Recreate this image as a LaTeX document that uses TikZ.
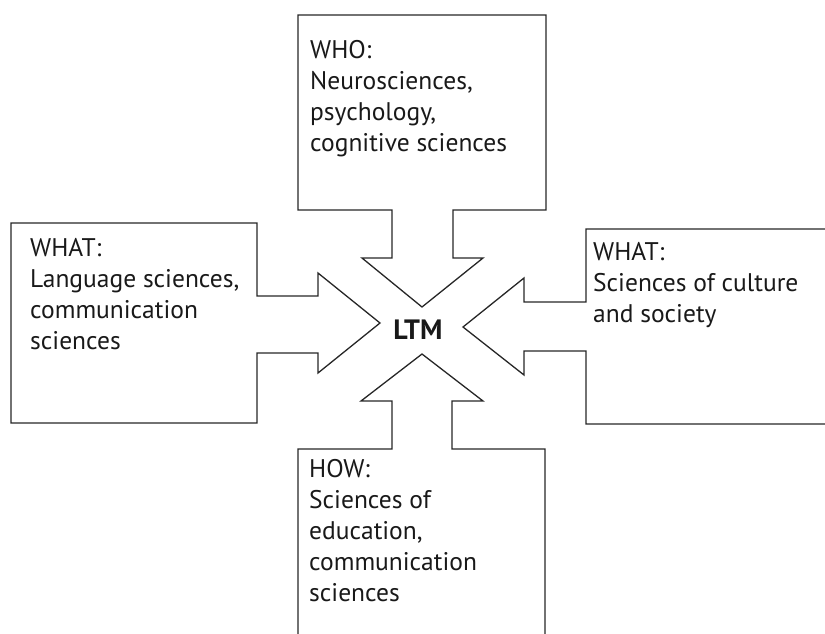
\documentclass[tikz,border=0pt]{standalone}
\usepackage{fontspec}
\setmainfont{PT Sans}
\usetikzlibrary{positioning}

\begin{document}
\begin{tikzpicture}[x=1pt, y=-1pt,
  shape line/.style={draw=black!85, line width=1.3pt, line join=miter},
  label box/.style={anchor=north west, inner sep=0pt, align=left,
              font=\fontsize{25.5}{31}\selectfont, text=black!90},
  centre/.style={font=\fontsize{28}{30}\selectfont\bfseries, text=black!90}]
\clip (0,0) rectangle (825,633);
% arrow outlines
\draw[shape line] (298,15) -- (546,15) -- (546,210) -- (453,210) -- (453,258) -- (483,258)
  -- (422,307) -- (362,258) -- (392,258) -- (392,210) -- (298,210) -- cycle;
\draw[shape line] (11,223) -- (257,223) -- (257,296) -- (318,296) -- (318,273) -- (380,323)
  -- (318,373) -- (318,353) -- (257,353) -- (257,423) -- (11,423) -- cycle;
\draw[shape line] (840,229) -- (586,229) -- (586,302) -- (524,302) -- (524,278) -- (463,327)
  -- (524,375) -- (524,351) -- (586,351) -- (586,424) -- (840,424);
\draw[shape line] (298,645) -- (298,449) -- (392,449) -- (392,401) -- (361,401) -- (422,354)
  -- (483,401) -- (452,401) -- (452,449) -- (545,449) -- (545,645);
% texts
\node[label box] (who) at (310,40) {WHO:\\Neurosciences,\\psychology,\\cognitive sciences};
\node[label box] (whatL) at (30,238) {WHAT:\\Language sciences,\\communication\\sciences};
\node[label box] (whatR) at (593,242) {WHAT:\\Sciences of culture\\and society};
\node[label box] (how) at (309,459) {HOW:\\Sciences of\\education,\\communication\\sciences};
\node[centre] (ltm) at (418,330) {LTM};
\end{tikzpicture}
\end{document}
